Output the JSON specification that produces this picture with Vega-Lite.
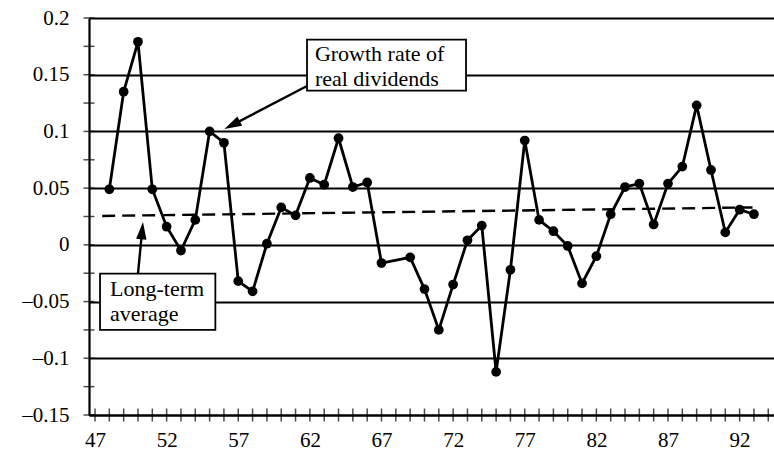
{
  "$schema": "https://vega.github.io/schema/vega-lite/v6.json",
  "width": 685,
  "height": 397,
  "autosize": {"type": "none"},
  "padding": {"left": 89, "top": 18, "right": 0, "bottom": 38},
  "background": "white",
  "config": {"view": {"stroke": null}, "font": "Liberation Serif, serif"},
  "datasets": {
    "series": [
      {"year": 48, "g": 0.049}, {"year": 49, "g": 0.135}, {"year": 50, "g": 0.179}, {"year": 51, "g": 0.049},
      {"year": 52, "g": 0.016}, {"year": 53, "g": -0.005}, {"year": 54, "g": 0.022}, {"year": 55, "g": 0.100},
      {"year": 56, "g": 0.090}, {"year": 57, "g": -0.032}, {"year": 58, "g": -0.041}, {"year": 59, "g": 0.001},
      {"year": 60, "g": 0.033}, {"year": 61, "g": 0.026}, {"year": 62, "g": 0.059}, {"year": 63, "g": 0.053},
      {"year": 64, "g": 0.094}, {"year": 65, "g": 0.051}, {"year": 66, "g": 0.055}, {"year": 67, "g": -0.016},
      {"year": 69, "g": -0.011}, {"year": 70, "g": -0.039}, {"year": 71, "g": -0.075}, {"year": 72, "g": -0.035},
      {"year": 73, "g": 0.004}, {"year": 74, "g": 0.017}, {"year": 75, "g": -0.112}, {"year": 76, "g": -0.022},
      {"year": 77, "g": 0.092}, {"year": 78, "g": 0.022}, {"year": 79, "g": 0.012}, {"year": 80, "g": -0.001},
      {"year": 81, "g": -0.034}, {"year": 82, "g": -0.010}, {"year": 83, "g": 0.027}, {"year": 84, "g": 0.051},
      {"year": 85, "g": 0.054}, {"year": 86, "g": 0.018}, {"year": 87, "g": 0.054}, {"year": 88, "g": 0.069},
      {"year": 89, "g": 0.123}, {"year": 90, "g": 0.066}, {"year": 91, "g": 0.011}, {"year": 92, "g": 0.031},
      {"year": 93, "g": 0.027}
    ],
    "avg": [{"year": 47.5, "g": 0.0255}, {"year": 92.9, "g": 0.033}],
    "boxes": [
      {"x": 61.8, "x2": 72.9, "y": 0.181, "y2": 0.136},
      {"x": 47.35, "x2": 55.4, "y": -0.0253, "y2": -0.075}
    ],
    "notes": [
      {"x": 62.35, "y": 0.1623, "text": "Growth rate of"},
      {"x": 62.35, "y": 0.1402, "text": "real dividends"},
      {"x": 48.05, "y": -0.045, "text": "Long-term"},
      {"x": 48.05, "y": -0.067, "text": "average"}
    ],
    "arrows": [
      {"x": 61.8, "y": 0.140, "x2": 56.57, "y2": 0.1056},
      {"x": 50.0, "y": -0.0253, "x2": 50.29, "y2": 0.0126}
    ],
    "heads": [
      {"x": 56.57, "y": 0.1056, "angle": 242.3},
      {"x": 50.29, "y": 0.0126, "angle": 5.7}
    ],
    "xticks": [
      {"t": 47}, {"t": 48}, {"t": 49}, {"t": 50}, {"t": 51}, {"t": 52}, {"t": 53}, {"t": 54}, {"t": 55}, {"t": 56},
      {"t": 57}, {"t": 58}, {"t": 59}, {"t": 60}, {"t": 61}, {"t": 62}, {"t": 63}, {"t": 64}, {"t": 65}, {"t": 66},
      {"t": 67}, {"t": 68}, {"t": 69}, {"t": 70}, {"t": 71}, {"t": 72}, {"t": 73}, {"t": 74}, {"t": 75}, {"t": 76},
      {"t": 77}, {"t": 78}, {"t": 79}, {"t": 80}, {"t": 81}, {"t": 82}, {"t": 83}, {"t": 84}, {"t": 85}, {"t": 86},
      {"t": 87}, {"t": 88}, {"t": 89}, {"t": 90}, {"t": 91}, {"t": 92}, {"t": 93}, {"t": 94}
    ],
    "yticks": [
      {"t": -0.15}, {"t": -0.125}, {"t": -0.1}, {"t": -0.075}, {"t": -0.05}, {"t": -0.025}, {"t": 0},
      {"t": 0.025}, {"t": 0.05}, {"t": 0.075}, {"t": 0.1}, {"t": 0.125}, {"t": 0.15}, {"t": 0.175}, {"t": 0.2}
    ]
  },
  "layer": [
    {
      "data": {"name": "series"},
      "mark": {"type": "line", "color": "black", "strokeWidth": 2.8,
               "point": {"filled": true, "size": 95, "color": "black", "opacity": 1}},
      "encoding": {
        "x": {"field": "year", "type": "quantitative",
              "scale": {"domain": [46.58, 94.4], "nice": false, "zero": false},
              "axis": {"values": [47, 52, 57, 62, 67, 72, 77, 82, 87, 92], "title": null, "grid": false,
                       "ticks": false, "tickSize": 0, "domainColor": "black", "domainWidth": 2.2,
                       "labelFont": "Liberation Serif, serif", "labelFontSize": 21, "labelColor": "black",
                       "labelPadding": 14, "labelFlush": false}},
        "y": {"field": "g", "type": "quantitative",
              "scale": {"domain": [-0.15, 0.2], "nice": false, "zero": false},
              "axis": {"values": [-0.15, -0.1, -0.05, 0, 0.05, 0.1, 0.15, 0.2], "title": null,
                       "grid": true, "gridColor": "black", "gridWidth": 1.8, "gridOpacity": 1,
                       "ticks": false, "tickSize": 0, "domainColor": "black", "domainWidth": 2.2,
                       "labelFont": "Liberation Serif, serif", "labelFontSize": 21, "labelColor": "black",
                       "labelPadding": 20, "labelFlush": false,
                       "labelExpr": "datum.value < 0 ? '–' + format(-datum.value, '') : format(datum.value, '')"}}
      }
    },
    {
      "data": {"name": "avg"},
      "mark": {"type": "line", "color": "black", "strokeWidth": 2.4, "strokeDash": [13, 7]},
      "encoding": {
        "x": {"field": "year", "type": "quantitative"},
        "y": {"field": "g", "type": "quantitative"}
      }
    },
    {
      "data": {"name": "xticks"},
      "mark": {"type": "tick", "orient": "vertical", "color": "black", "size": 13, "thickness": 1.5},
      "encoding": {
        "x": {"field": "t", "type": "quantitative"},
        "y": {"datum": -0.15, "type": "quantitative"}
      }
    },
    {
      "data": {"name": "yticks"},
      "mark": {"type": "tick", "orient": "horizontal", "color": "black", "size": 11, "thickness": 1.5},
      "encoding": {
        "y": {"field": "t", "type": "quantitative"},
        "x": {"datum": 46.58, "type": "quantitative"}
      }
    },
    {
      "data": {"name": "arrows"},
      "mark": {"type": "rule", "color": "black", "strokeWidth": 2.4},
      "encoding": {
        "x": {"field": "x", "type": "quantitative"},
        "y": {"field": "y", "type": "quantitative"},
        "x2": {"field": "x2"},
        "y2": {"field": "y2"}
      }
    },
    {
      "data": {"name": "heads"},
      "mark": {"type": "point", "shape": "M0,-1L0.6,1L-0.6,1Z", "filled": true, "color": "black", "opacity": 1, "size": 300},
      "encoding": {
        "x": {"field": "x", "type": "quantitative"},
        "y": {"field": "y", "type": "quantitative"},
        "angle": {"field": "angle", "type": "quantitative", "scale": null}
      }
    },
    {
      "data": {"name": "boxes"},
      "mark": {"type": "rect", "fill": "white", "stroke": "black", "strokeWidth": 1.8},
      "encoding": {
        "x": {"field": "x", "type": "quantitative"},
        "x2": {"field": "x2"},
        "y": {"field": "y", "type": "quantitative"},
        "y2": {"field": "y2"}
      }
    },
    {
      "data": {"name": "notes"},
      "mark": {"type": "text", "align": "left", "baseline": "alphabetic", "font": "Liberation Serif, serif", "fontSize": 22, "color": "black"},
      "encoding": {
        "x": {"field": "x", "type": "quantitative"},
        "y": {"field": "y", "type": "quantitative"},
        "text": {"field": "text"}
      }
    }
  ]
}
